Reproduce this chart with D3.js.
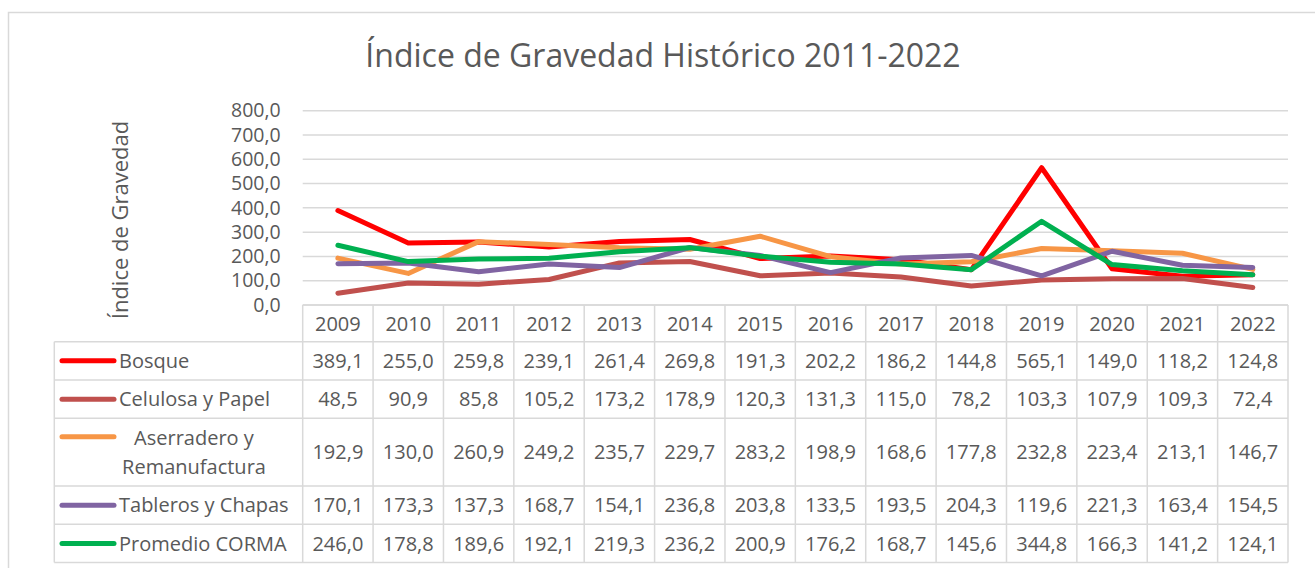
<!DOCTYPE html>
<html>
<head>
<meta charset="utf-8">
<script src="https://cdn.jsdelivr.net/npm/d3@7"></script>
<style>
  body { margin: 0; background: #fff; }
  text { font-family: "Open Sans", sans-serif; fill: #595959; }
</style>
</head>
<body>
<div id="chart"></div>
<script>
// data
var years = ["2009", "2010", "2011", "2012", "2013", "2014", "2015", "2016", "2017", "2018", "2019", "2020", "2021", "2022"];
var bosque = [389.1, 255.0, 259.8, 239.1, 261.4, 269.8, 191.3, 202.2, 186.2, 144.8, 565.1, 149.0, 118.2, 124.8];
var celulosa = [48.5, 90.9, 85.8, 105.2, 173.2, 178.9, 120.3, 131.3, 115.0, 78.2, 103.3, 107.9, 109.3, 72.4];
var aserradero = [192.9, 130.0, 260.9, 249.2, 235.7, 229.7, 283.2, 198.9, 168.6, 177.8, 232.8, 223.4, 213.1, 146.7];
var tableros = [170.1, 173.3, 137.3, 168.7, 154.1, 236.8, 203.8, 133.5, 193.5, 204.3, 119.6, 221.3, 163.4, 154.5];
var promedio = [246.0, 178.8, 189.6, 192.1, 219.3, 236.2, 200.9, 176.2, 168.7, 145.6, 344.8, 166.3, 141.2, 124.1];
var yTicks = [0, 100, 200, 300, 400, 500, 600, 700, 800];

var seriesNames = ["Bosque", "Celulosa y Papel", "Aserradero y Remanufactura", "Tableros y Chapas", "Promedio CORMA"];
var seriesValues = [bosque, celulosa, aserradero, tableros, promedio];
var colors = ["#FF0000", "#C0504D", "#F79646", "#8064A2", "#00B050"];

var svgWidth = 1315;
var svgHeight = 568;

var plot = { left: 302.7, right: 1288, top: 110.7, bottom: 305 };
// row edges of the data table (header row first)
var rowEdges = [305, 341.7, 380, 418.3, 486, 524.3, 562.5];
var tableLeft = 54.3;

var svg = d3.select("#chart")
  .append("svg")
  .attr("width", svgWidth)
  .attr("height", svgHeight);

// outer frame
svg.append("rect")
  .attr("x", 8.5)
  .attr("y", 12.5)
  .attr("width", 1330)
  .attr("height", 600)
  .attr("fill", "none")
  .attr("stroke", "#D9D9D9")
  .attr("stroke-width", 1.5);

// title
svg.append("text")
  .attr("x", 663)
  .attr("y", 67)
  .attr("text-anchor", "middle")
  .attr("font-size", 32)
  .text("Índice de Gravedad Histórico 2011-2022");

// scales
var xScale = d3.scaleBand()
  .domain(years)
  .range([plot.left, plot.right]);

var yScale = d3.scaleLinear()
  .domain([0, 800])
  .range([plot.bottom, plot.top]);

// gridlines
svg.append("g")
  .selectAll("line")
  .data(yTicks)
  .enter()
  .append("line")
  .attr("x1", plot.left)
  .attr("x2", plot.right)
  .attr("y1", d => yScale(d))
  .attr("y2", d => yScale(d))
  .attr("stroke", "#D9D9D9")
  .attr("stroke-width", 1.5);

// y axis
var leftAxis = d3.axisLeft(yScale)
  .tickValues(yTicks)
  .tickSize(0)
  .tickPadding(22)
  .tickFormat(d => d3.format(".1f")(d).replace(".", ","));

var yAxisG = svg.append("g")
  .attr("transform", `translate(${plot.left}, 0)`)
  .call(leftAxis);
yAxisG.select(".domain").remove();
yAxisG.selectAll("text")
  .attr("font-family", "Open Sans")
  .attr("font-size", 19.5)
  .attr("fill", "#595959");

// axis title
svg.append("text")
  .attr("transform", "rotate(-90)")
  .attr("x", -220)
  .attr("y", 128)
  .attr("text-anchor", "middle")
  .attr("font-size", 22)
  .text("Índice de Gravedad");

// lines
var line = d3.line()
  .x((d, i) => xScale(years[i]) + xScale.bandwidth() / 2)
  .y(d => yScale(d));

svg.append("g")
  .selectAll("path")
  .data(seriesValues)
  .enter()
  .append("path")
  .attr("d", d => line(d))
  .attr("fill", "none")
  .attr("stroke", (d, i) => colors[i])
  .attr("stroke-width", 5)
  .attr("stroke-linejoin", "round")
  .attr("stroke-linecap", "round");

// data table
var table = svg.append("g");
var gridColor = "#D9D9D9";

// horizontal borders
rowEdges.forEach(function(y, i) {
  table.append("line")
    .attr("x1", i == 0 ? plot.left : tableLeft)
    .attr("x2", plot.right)
    .attr("y1", y)
    .attr("y2", y)
    .attr("stroke", gridColor)
    .attr("stroke-width", 1.5);
});

// vertical borders
var colEdges = years.map(d => xScale(d)).concat([plot.right]);
colEdges.forEach(function(x) {
  table.append("line")
    .attr("x1", x)
    .attr("x2", x)
    .attr("y1", rowEdges[0])
    .attr("y2", rowEdges[rowEdges.length - 1])
    .attr("stroke", gridColor)
    .attr("stroke-width", 1.5);
});
table.append("line")
  .attr("x1", tableLeft)
  .attr("x2", tableLeft)
  .attr("y1", rowEdges[1])
  .attr("y2", rowEdges[rowEdges.length - 1])
  .attr("stroke", gridColor)
  .attr("stroke-width", 1.5);

// header years
table.selectAll(".yr")
  .data(years)
  .enter()
  .append("text")
  .attr("class", "yr")
  .attr("x", d => xScale(d) + xScale.bandwidth() / 2)
  .attr("y", (rowEdges[0] + rowEdges[1]) / 2)
  .attr("dy", "0.36em")
  .attr("text-anchor", "middle")
  .attr("font-size", 20)
  .text(d => d);

var fmt = v => d3.format(".1f")(v).replace(".", ",");

seriesValues.forEach(function(vals, s) {
  var top = rowEdges[s + 1];
  var bot = rowEdges[s + 2];
  var mid = (top + bot) / 2;

  table.selectAll(".v" + s)
    .data(vals)
    .enter()
    .append("text")
    .attr("x", (d, i) => xScale(years[i]) + xScale.bandwidth() / 2)
    .attr("y", mid)
    .attr("dy", "0.36em")
    .attr("text-anchor", "middle")
    .attr("font-size", 20)
    .text(d => fmt(d));

  // legend key
  var keyY = s == 2 ? top + 18.5 : mid;
  table.append("line")
    .attr("x1", 62)
    .attr("x2", 114)
    .attr("y1", keyY)
    .attr("y2", keyY)
    .attr("stroke", colors[s])
    .attr("stroke-width", 5)
    .attr("stroke-linecap", "round");

  if (s == 2) {
    // wrapped label
    table.append("text")
      .attr("x", 194)
      .attr("y", top + 19)
      .attr("dy", "0.36em")
      .attr("text-anchor", "middle")
      .attr("font-size", 20)
      .text("Aserradero y");
    table.append("text")
      .attr("x", 194)
      .attr("y", top + 48)
      .attr("dy", "0.36em")
      .attr("text-anchor", "middle")
      .attr("font-size", 20)
      .text("Remanufactura");
  } else {
    table.append("text")
      .attr("x", 119)
      .attr("y", mid)
      .attr("dy", "0.36em")
      .attr("font-size", 20)
      .text(seriesNames[s]);
  }
});
</script>
</body>
</html>
